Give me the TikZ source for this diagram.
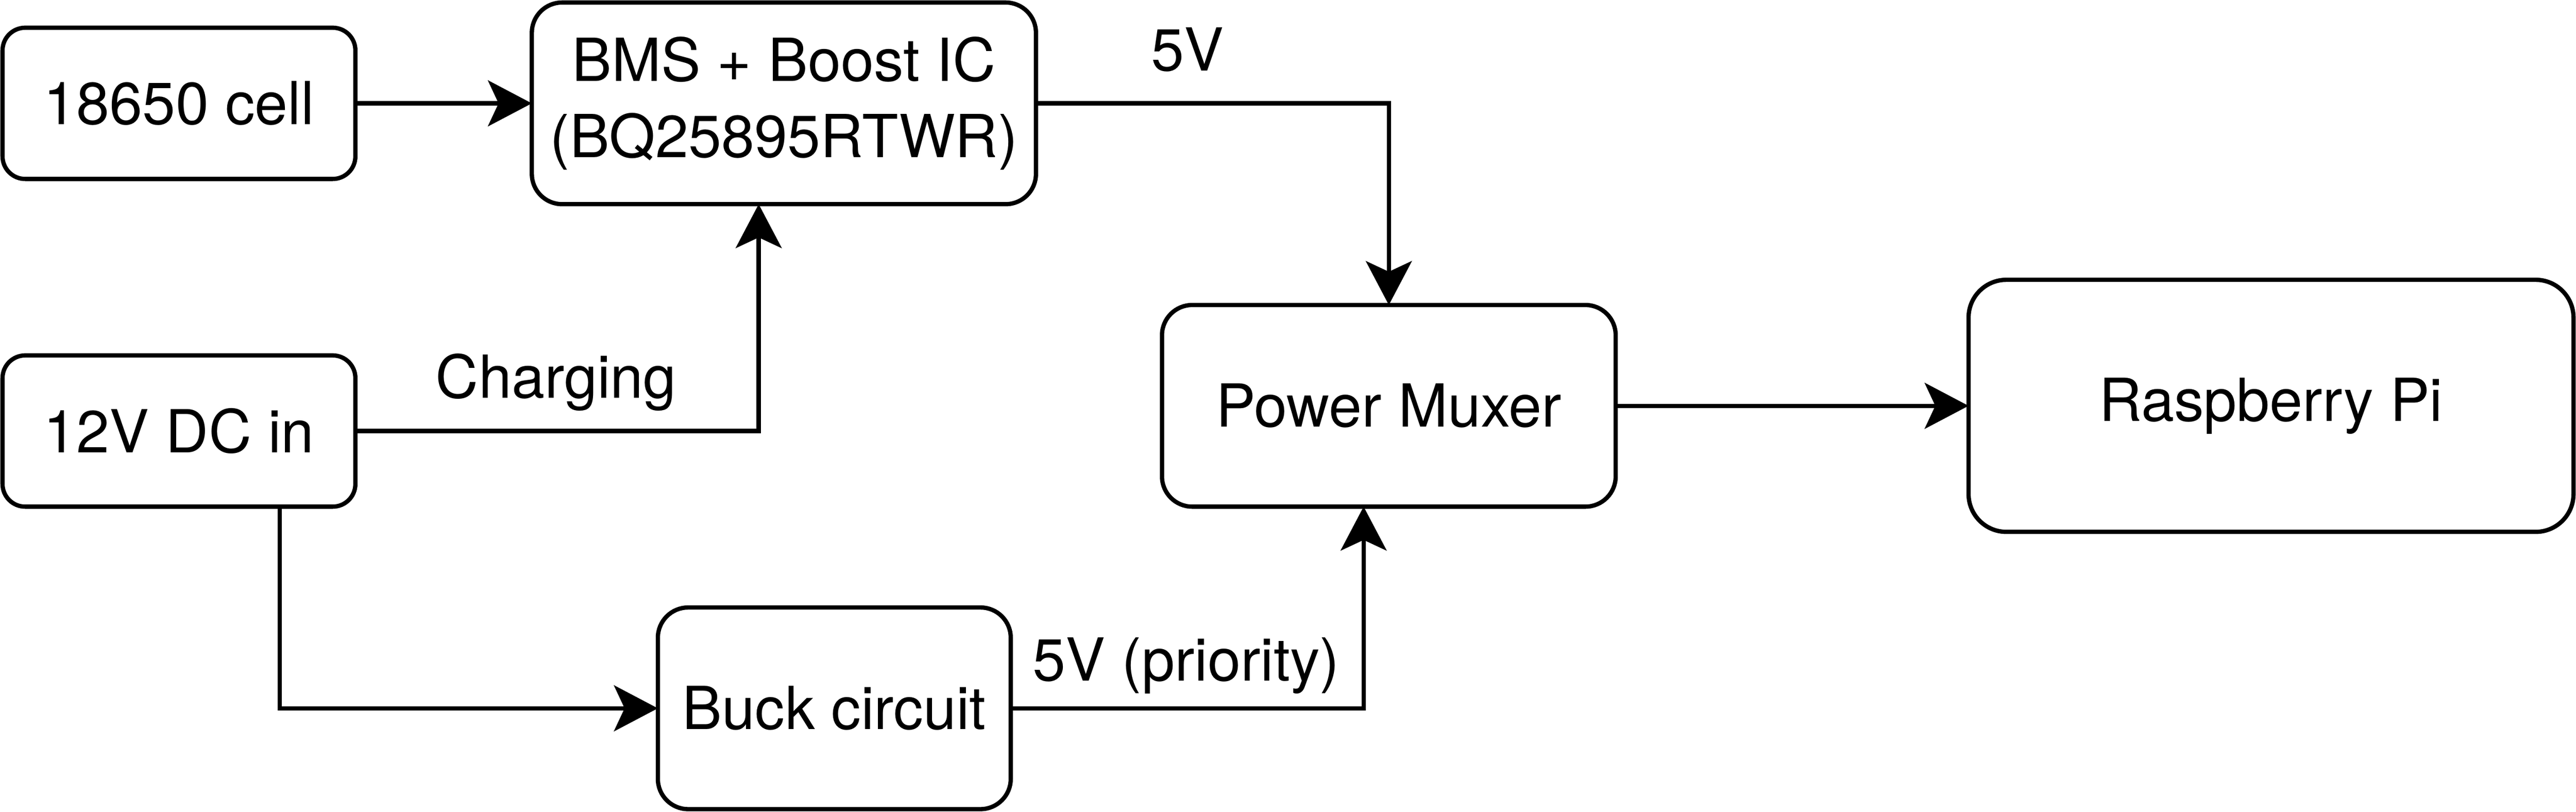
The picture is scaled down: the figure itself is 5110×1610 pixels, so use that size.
\documentclass[tikz,border=0pt]{standalone}
\usepackage{fontspec}
\setmainfont{TeX Gyre Heros}
\usetikzlibrary{arrows.meta}
\begin{document}
\begin{tikzpicture}[x=0.1mm,y=-0.1mm,
  txt/.style={font=\fontsize{33.5}{43}\selectfont},
  box/.style={draw, line width=0.85mm, rounded corners=#1, inner sep=0pt, outer sep=0pt, align=center, txt},
  arr/.style={line width=0.85mm, -{Stealth[length=8.7mm,width=9.1mm,inset=2.1mm]}},
  lbl/.style={anchor=base, inner sep=0pt, txt}]
\useasboundingbox (0,0) rectangle (5110,1610);

\node[box=4.5mm, minimum width=70mm, minimum height=30mm] (cell) at (355,205) {18650 cell};
\node[box=6mm, minimum width=100mm, minimum height=40mm] (bms) at (1555,205) {BMS + Boost IC\\(BQ25895RTWR)};
\node[box=4.5mm, minimum width=70mm, minimum height=30mm] (dc) at (355,855) {12V DC in};
\node[box=6mm, minimum width=90mm, minimum height=40mm] (mux) at (2755,805) {Power Muxer};
\node[box=7.5mm, minimum width=120mm, minimum height=50mm] (pi) at (4505,805) {Raspberry Pi};
\node[box=6mm, minimum width=70mm, minimum height=40mm] (buck) at (1655,1405) {Buck circuit};

\draw[arr] (cell.east) -- (bms.west);
\draw[arr] (bms.east) -| (mux.north);
\draw[arr] (dc.east) -| ([xshift=-5mm]bms.south);
\draw[arr] ([xshift=20mm]dc.south) |- (buck.west);
\draw[arr] (buck.east) -| ([xshift=-5mm]mux.south);
\draw[arr] (mux.east) -- (pi.west);

\node[lbl] (l5v) at (2356,141) {5V};
\node[lbl] (lchg) at (1103,789) {Charging};
\node[lbl] (lpri) at (2353,1351) {5V (priority)};
\end{tikzpicture}
\end{document}
